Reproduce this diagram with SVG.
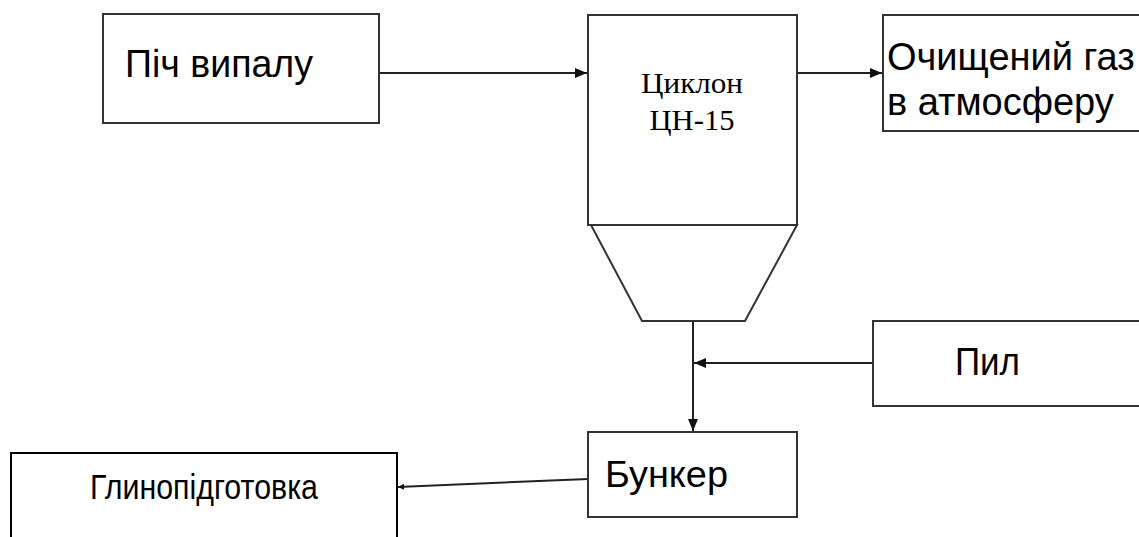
<svg xmlns="http://www.w3.org/2000/svg" width="1139" height="537" viewBox="0 0 1139 537">
<style>
.box{fill:#fff;stroke:#333;stroke-width:2}
.ln{fill:none;stroke:#222;stroke-width:2}
.sans{font-family:"Liberation Sans",Arial,sans-serif;fill:#000}
.serif{font-family:"Liberation Serif","Times New Roman",serif;fill:#000}
</style>
<defs>
<marker id="ah" viewBox="0 0 12 10" refX="12" refY="5" markerWidth="12" markerHeight="10" markerUnits="userSpaceOnUse" orient="auto">
<path d="M0,0 L12,5 L0,10 Z" fill="#111"/>
</marker>
<marker id="ahs" viewBox="0 0 8 8" refX="8" refY="4" markerWidth="6" markerHeight="6" markerUnits="userSpaceOnUse" orient="auto">
<path d="M0,0 L8,4 L0,8 Z" fill="#111"/>
</marker>
</defs>
<rect width="1139" height="537" fill="#fff"/>
<g id="connectors">
<line class="ln" x1="379" y1="73" x2="587" y2="73" marker-end="url(#ah)"/>
<line class="ln" x1="797" y1="73" x2="882" y2="73" marker-end="url(#ah)"/>
<line class="ln" x1="693" y1="321" x2="693" y2="431" marker-end="url(#ah)"/>
<line class="ln" x1="873" y1="363" x2="694" y2="363" marker-end="url(#ah)"/>
<line class="ln" x1="588" y1="479" x2="398" y2="487" marker-end="url(#ahs)"/>
</g>
<g id="node-pich">
<rect class="box" x="103" y="14" width="276" height="109"/>
<text class="sans" x="125" y="77" font-size="38" textLength="188" lengthAdjust="spacingAndGlyphs">Піч випалу</text>
</g>
<g id="node-cyclone">
<rect class="box" x="588" y="15" width="209" height="210"/>
<polygon class="box" points="591,225 797,225 745,321 642,321"/>
<text class="serif" x="692" y="93" font-size="30" text-anchor="middle" textLength="102" lengthAdjust="spacingAndGlyphs">Циклон</text>
<text class="serif" x="692" y="130" font-size="30" text-anchor="middle" textLength="85" lengthAdjust="spacingAndGlyphs">ЦН-15</text>
</g>
<g id="node-gas">
<rect class="box" x="883" y="15" width="270" height="116"/>
<text class="sans" x="887" y="70" font-size="38">Очищений газ</text>
<text class="sans" x="887" y="115" font-size="38">в атмосферу</text>
</g>
<g id="node-pyl">
<rect class="box" x="873" y="321" width="280" height="85"/>
<text class="sans" x="955" y="375" font-size="38" textLength="65" lengthAdjust="spacingAndGlyphs">Пил</text>
</g>
<g id="node-bunker">
<rect class="box" x="588" y="432" width="209" height="85"/>
<text class="sans" x="605" y="487" font-size="37" textLength="123" lengthAdjust="spacingAndGlyphs">Бункер</text>
</g>
<g id="node-glyno">
<rect class="box" x="11" y="453" width="386" height="100" style="stroke:#000"/>
<text class="sans" x="90" y="499" font-size="35" textLength="228" lengthAdjust="spacingAndGlyphs">Глинопідготовка</text>
</g>
</svg>
